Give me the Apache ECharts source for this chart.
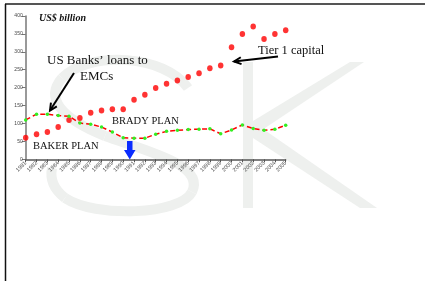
<!DOCTYPE html>
<html><head><meta charset="utf-8">
<script src="https://cdn.jsdelivr.net/npm/echarts@6/dist/echarts.min.js"></script>
<style>html,body{margin:0;padding:0;background:#fff}#c{width:425px;height:281px}</style>
</head><body><div id="c"></div>
<script>
const years = ['1981','1982','1983','1984','1985','1986','1987','1988','1989','1990','1991','1992','1993','1994','1995','1996','1997','1998','1999','2000','2001','2002','2003','2004','2005'];
const tier1Capital = [60,70,76,90,110,115,130,136,140,140,166,180,199,211,220,230,240,254,262,313,350,371,336,350,360];
const loansToEMCs = [110,126,126,122,120,101,98,90,76,60,59,59,70,78,81,83,84,85,71,82,96,86,81,84,95];
const yTicks = [0,50,100,150,200,250,300,350,400];

const chart = echarts.init(document.getElementById('c'), null, {renderer:'canvas'});
const wm = '#eef0ee';
function arrowHead(x1,y1,x2,y2,len,ang){
  const a = Math.atan2(y2-y1,x2-x1);
  return [[x2-len*Math.cos(a-ang), y2-len*Math.sin(a-ang)],[x2,y2],[x2-len*Math.cos(a+ang), y2-len*Math.sin(a+ang)]];
}
function bz(x1,y1,c1x,c1y,c2x,c2y,x2,y2){
  return {type:'bezierCurve',z:-10,silent:true,shape:{x1:x1,y1:y1,cpx1:c1x,cpy1:c1y,cpx2:c2x,cpy2:c2y,x2:x2,y2:y2},style:{fill:null,stroke:wm,lineWidth:10}};
}
const serif = '"Liberation Serif","Times New Roman",serif';
chart.setOption({
  animation:false,
  backgroundColor:'#fff',
  grid:{left:25.7,right:139.3,top:16,bottom:121.7,containLabel:false},
  xAxis:{type:'category',data:years,boundaryGap:false,
    axisLine:{lineStyle:{color:'#555',width:1.5}},
    axisTick:{show:true,length:3,lineStyle:{color:'#555'}},
    axisLabel:{rotate:45,fontSize:5.5,color:'#444',margin:3,interval:0,fontFamily:'Arial'}},
  yAxis:{type:'value',min:yTicks[0],max:yTicks[yTicks.length-1],interval:50,
    axisLine:{show:true,lineStyle:{color:'#777',width:1.5}},
    axisTick:{show:true,length:4,lineStyle:{color:'#777'}},
    splitLine:{show:false},
    axisLabel:{fontSize:5,color:'#444',margin:3,fontFamily:'Arial'}},
  graphic:[
    {type:'line',z:-10,shape:{x1:5,y1:4,x2:425,y2:4},style:{stroke:'#555',lineWidth:2}},
    {type:'line',z:-10,shape:{x1:5.5,y1:4,x2:5.5,y2:281},style:{stroke:'#111',lineWidth:1.5}},
    bz(188,88,165,55,90,50,62,78),
    bz(62,78,45,98,60,118,105,136),
    bz(105,136,150,152,205,165,192,192),
    bz(192,192,180,215,95,218,65,198),
    bz(65,198,52,188,50,178,52,168),
    {type:'rect',z:-10,silent:true,shape:{x:243,y:62,width:10,height:146},style:{fill:wm}},
    {type:'polygon',z:-10,silent:true,shape:{points:[[253,121],[253,136],[364,62],[350,62]]},style:{fill:wm}},
    {type:'polygon',z:-10,silent:true,shape:{points:[[253,122],[253,138],[360,208],[377,208]]},style:{fill:wm}},
    {type:'text',left:39,top:13,style:{text:'US$ billion',font:'italic bold 10px '+serif,fill:'#111'}},
    {type:'text',left:47,top:54,style:{text:'US Banks\u2019 loans to',font:'13px '+serif,fill:'#111'}},
    {type:'text',left:80,top:70,style:{text:'EMCs',font:'13px '+serif,fill:'#111'}},
    {type:'text',left:258,top:44,style:{text:'Tier 1 capital',font:'12.5px '+serif,fill:'#111'}},
    {type:'text',left:112,top:115.5,style:{text:'BRADY PLAN',font:'10.5px '+serif,fill:'#111'}},
    {type:'text',left:33,top:140.5,style:{text:'BAKER PLAN',font:'10.5px '+serif,fill:'#111'}},
    {type:'line',shape:{x1:74,y1:73,x2:50,y2:110.5},style:{stroke:'#000',lineWidth:2}},
    {type:'polyline',shape:{points:arrowHead(74,73,50,110.5,8,0.45)},style:{stroke:'#000',lineWidth:2,fill:null}},
    {type:'line',shape:{x1:278,y1:56.5,x2:234,y2:61.5},style:{stroke:'#000',lineWidth:2}},
    {type:'polyline',shape:{points:arrowHead(278,56.5,234,61.5,8,0.45)},style:{stroke:'#000',lineWidth:2,fill:null}},
    {type:'polygon',z:10,shape:{points:[[127,141],[132.5,141],[132.5,150],[135.5,150],[129.8,159.5],[124,150],[127,150]]},style:{fill:'#0a2cff'}}
  ],
  series:[
    {name:'Tier 1 capital',type:'scatter',data:tier1Capital,symbol:'circle',symbolSize:[5.5,6],itemStyle:{color:'#ff0000'},z:3},
    {name:'US Banks loans to EMCs',type:'line',data:loansToEMCs,symbol:'circle',symbolSize:3.5,showSymbol:true,
      lineStyle:{color:'#ff0000',width:1.5,type:[5,3]},itemStyle:{color:'#33ee22',borderWidth:0},z:4}
  ]
});
</script></body></html>
